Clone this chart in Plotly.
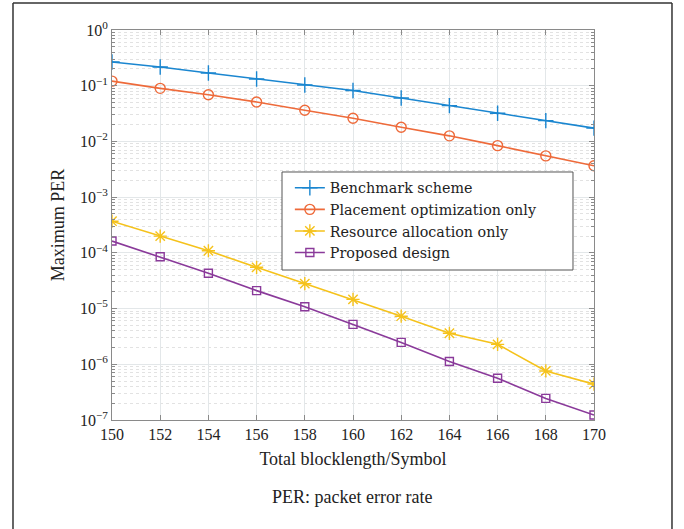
import plotly.graph_objects as go

blocklength = [150, 152, 154, 156, 158, 160, 162, 164, 166, 168, 170]
benchmark = [0.267, 0.217, 0.169, 0.132, 0.103, 0.082, 0.060, 0.044, 0.032, 0.0236, 0.0173]
placement = [0.121, 0.0897, 0.069, 0.051, 0.0362, 0.026, 0.018, 0.0126, 0.0084, 0.0055, 0.00366]
resource = [3.7e-4, 2.0e-4, 1.09e-4, 5.5e-5, 2.8e-5, 1.46e-5, 7.3e-6, 3.6e-6, 2.28e-6, 7.6e-7, 4.4e-7]
proposed = [1.63e-4, 8.5e-5, 4.3e-5, 2.1e-5, 1.08e-5, 5.2e-6, 2.47e-6, 1.12e-6, 5.6e-7, 2.44e-7, 1.23e-7]

names = ["Benchmark scheme", "Placement optimization only", "Resource allocation only", "Proposed design"]
y_tick_vals = [1e-7, 1e-6, 1e-5, 1e-4, 1e-3, 1e-2, 1e-1, 1e0]
y_tick_text = ["10<sup>−7</sup>", "10<sup>−6</sup>", "10<sup>−5</sup>", "10<sup>−4</sup>",
               "10<sup>−3</sup>", "10<sup>−2</sup>", "10<sup>−1</sup>", "10<sup>0</sup>"]
x_tick_vals = [150, 152, 154, 156, 158, 160, 162, 164, 166, 168, 170]

colors = ["#1a86d0", "#ee6a3a", "#f5c21b", "#8a3a9a"]
symbols = ["cross-thin-open", "circle-open", "asterisk-open", "square-open"]
sizes = [11, 10, 11, 8]
series = [benchmark, placement, resource, proposed]

minor_vals = [k * 10.0 ** e for e in range(-7, 0) for k in range(2, 10)]

SERIF = "Liberation Serif, Times New Roman, serif"
LEG_SERIF = "DejaVu Serif, serif"

fig = go.Figure()
for name, ys, c, s, sz in zip(names, series, colors, symbols, sizes):
    fig.add_trace(go.Scatter(
        x=blocklength, y=ys, name=name, mode="lines+markers",
        line=dict(color=c, width=1.6),
        marker=dict(symbol=s, size=sz, color=c, line=dict(color=c, width=1.4)),
    ))

axis_color = "#8a8a8a"
fig.update_layout(
    width=684, height=529,
    margin=dict(l=112, r=90, t=30, b=109),
    paper_bgcolor="white", plot_bgcolor="white",
    font=dict(family=SERIF, size=15, color="#222222"),
    showlegend=True,
    legend=dict(
        x=0.369, y=0.636, xanchor="left", yanchor="top",
        bgcolor="rgba(0,0,0,0)", borderwidth=0,
        font=dict(family=LEG_SERIF, size=14.3, color="#222222"),
        tracegroupgap=0, itemwidth=30,
    ),
    xaxis=dict(
        range=[150, 170], tickmode="array", tickvals=x_tick_vals,
        showline=True, linecolor=axis_color, linewidth=1, mirror="ticks",
        ticks="inside", ticklen=5, tickcolor=axis_color,
        showgrid=True, gridcolor="#e3e7e9", gridwidth=1, zeroline=False,
        tickfont=dict(family=SERIF, size=16),
        title=dict(text="Total blocklength/Symbol", font=dict(family=SERIF, size=18), standoff=10),
    ),
    yaxis=dict(
        type="log", range=[-7, 0], tickmode="array", tickvals=y_tick_vals, ticktext=y_tick_text,
        showline=True, linecolor=axis_color, linewidth=1, mirror="ticks",
        ticks="inside", ticklen=5, tickcolor=axis_color,
        showgrid=True, gridcolor="#e3e7e9", gridwidth=1, zeroline=False,
        tickfont=dict(family=SERIF, size=16),
        minor=dict(tickmode="array", tickvals=minor_vals, ticks="inside", ticklen=3,
                   tickcolor=axis_color, showgrid=True, gridcolor="#e2e2e2",
                   griddash="dot", gridwidth=1),
        title=dict(text="Maximum PER", font=dict(family=SERIF, size=18), standoff=10),
    ),
)

# legend box drawn behind the (transparent) legend
fig.add_shape(type="rect", xref="paper", yref="paper", layer="above",
              x0=0.3527, x1=0.9564, y0=0.3846, y1=0.6359,
              line=dict(color="#555555", width=1), fillcolor="white")

fig.add_annotation(
    text="PER: packet error rate", xref="paper", yref="paper",
    x=0.498, y=-0.197, xanchor="center", yanchor="middle", showarrow=False,
    font=dict(family=SERIF, size=18, color="#222222"),
)

# outer frame (left, top, right)
frame = dict(color="#333333", width=1.5)
fig.add_shape(type="line", xref="paper", yref="paper", x0=-0.2054, x1=-0.2054, y0=-0.32, y1=1.0692, line=frame)
fig.add_shape(type="line", xref="paper", yref="paper", x0=-0.2054, x1=1.1618, y0=1.0692, y1=1.0692, line=frame)
fig.add_shape(type="line", xref="paper", yref="paper", x0=1.1618, x1=1.1618, y0=-0.32, y1=1.0692, line=frame)

fig.write_html("out.html", config={"displayModeBar": False},
               post_script="document.body.style.margin='0';")
